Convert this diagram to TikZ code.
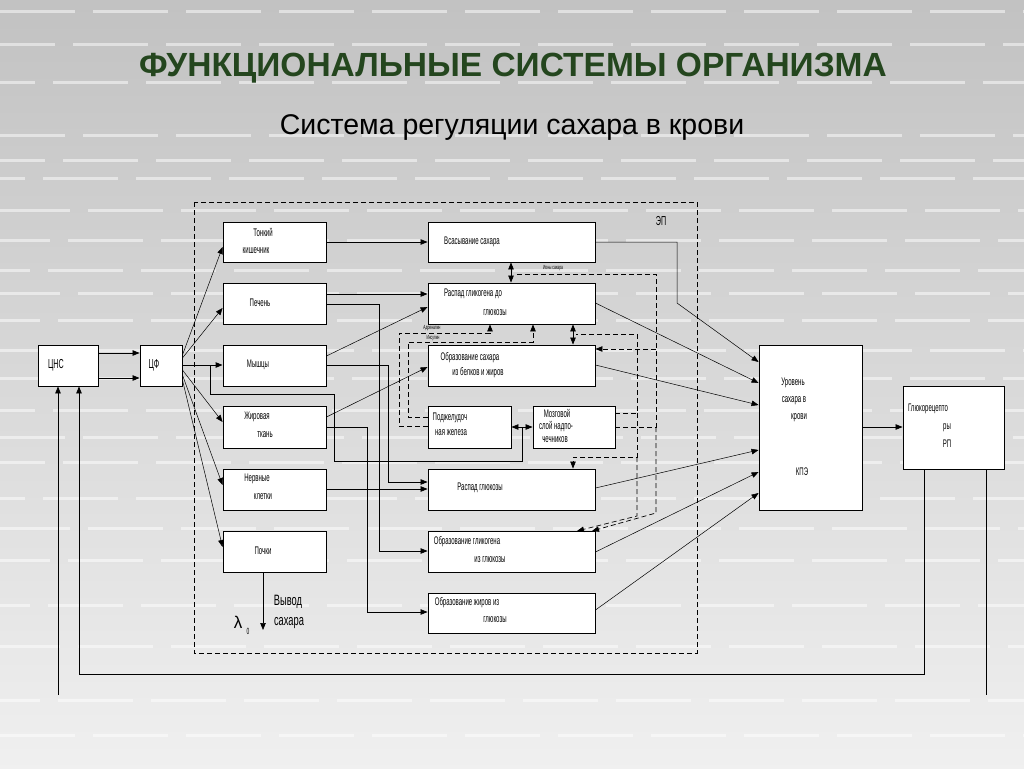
\documentclass[tikz,border=0pt]{standalone}
\usepackage{fontspec}
\setmainfont{Liberation Sans}
\newfontfamily\nar[FakeStretch=0.55]{Liberation Sans}
\newfontfamily\narb[FakeStretch=0.62]{Liberation Sans}
\usetikzlibrary{arrows.meta,calc}
\definecolor{ttl}{RGB}{36,70,30}
\newcommand\mybox[5]{\node[box, minimum width={(#4-#2)*1pt}, minimum height={(#5-#3)*1pt}] (#1) at ({(#2+#4)/2},{(#3+#5)/2}) {};}
\begin{document}
\begin{tikzpicture}[x=1pt,y=-1pt,
  box/.style={draw=black, fill=white, line width=0.9pt, inner sep=0pt},
  lbl/.style={font=\nar\fontsize{11}{12}\selectfont, inner sep=0pt},
  big/.style={font=\nar\fontsize{13}{14}\selectfont, inner sep=0pt},
  tiny/.style={font=\nar\fontsize{6}{7}\selectfont, inner sep=0pt},
  con/.style={line width=0.7pt, draw=black},
  thn/.style={line width=0.5pt, draw=black},
  arr/.style={-{Triangle[length=7pt,width=5.5pt]}},
  darr/.style={{Triangle[length=7pt,width=5.5pt]}-{Triangle[length=7pt,width=5.5pt]}},
  dsh/.style={dash pattern=on 5pt off 3pt, line width=0.7pt, draw=black},
  stripe/.style={white, opacity=0.5, line width=3pt}]
\useasboundingbox (0,0) rectangle (1024,768);
\shade[top color=gray!48, bottom color=gray!12] (0,0) rectangle (1024,768);
\foreach \yy/\ph in {12/0,45/20,82/40,135/10,160/30,178/50,210/5,240/25,270/45,293/15,320/35,350/0,378/20,410/40,437/10,462/30,498/50,528/5,560/25,605/45,646/15,700/35,735/0}
  \draw[stripe, dash pattern=on 75pt off 18pt, dash phase=\ph pt] (0,\yy) -- (1024,\yy);

% titles
\node[font=\bfseries\fontsize{33.5}{36}\selectfont, text=ttl, inner sep=0pt] (tit) at (513,68) {ФУНКЦИОНАЛЬНЫЕ СИСТЕМЫ ОРГАНИЗМА};
\node[font=\fontsize{28.5}{31}\selectfont, inner sep=0pt] (sub) at (512,128) {Система регуляции сахара в крови};

% EP dashed frame
\draw[dsh] (194,202) rectangle (697,653);
\node[big] (ep) at (661,221) {ЭП};

% boxes
\mybox{cns}{38}{345}{98}{386}
\mybox{cf}{140}{345}{182}{386}
\mybox{tk}{223}{222}{326}{262}
\mybox{pech}{223}{283}{326}{324}
\mybox{mysh}{223}{345}{326}{386}
\mybox{zhir}{223}{406}{326}{448}
\mybox{nerv}{223}{469}{326}{510}
\mybox{poch}{223}{531}{326}{572}
\mybox{vsas}{428}{222}{595}{262}
\mybox{rglik}{428}{283}{595}{324}
\mybox{obsah}{428}{345}{595}{386}
\mybox{podzh}{428}{406}{511}{448}
\mybox{mozg}{533}{406}{615}{448}
\mybox{rglu}{428}{469}{595}{510}
\mybox{obglik}{428}{531}{595}{572}
\mybox{obzhir}{428}{593}{595}{633}
\mybox{kpe}{759}{345}{862}{510}
\mybox{gluk}{903}{386}{1004}{469}

% box texts
\node[big] (tcns) at (56,365) {ЦНС};
\node[big] (tcf) at (154,365) {ЦФ};
\node[lbl] (ttk1) at (263,232) {Тонкий};
\node[lbl] (ttk2) at (256,251) {кишечник};
\node[lbl] (tpech) at (260,303) {Печень};
\node[lbl] (tmysh) at (258,365) {Мышцы};
\node[lbl] (tzh1) at (257,417) {Жировая};
\node[lbl] (tzh2) at (265,435) {ткань};
\node[lbl] (tnv1) at (257,479) {Нервные};
\node[lbl] (tnv2) at (263,497) {клетки};
\node[lbl] (tpoch) at (263,551) {Почки};
\node[lbl] (tvs) at (472,242) {Всасывание сахара};
\node[lbl] (trg1) at (473,294) {Распад гликогена до};
\node[lbl] (trg2) at (495,313) {глюкозы};
\node[lbl] (tos1) at (470,358) {Образование сахара};
\node[lbl] (tos2) at (478,373) {из белков и жиров};
\node[lbl] (tpz1) at (450,418) {Поджелудоч};
\node[lbl] (tpz2) at (451,433) {ная железа};
\node[lbl] (tmz1) at (557,413) {Мозговой};
\node[lbl] (tmz2) at (556,427) {слой надпо-};
\node[lbl] (tmz3) at (555,440) {чечников};
\node[lbl] (trgl) at (480,488) {Распад глюкозы};
\node[lbl] (tog1) at (467,542) {Образование гликогена};
\node[lbl] (tog2) at (490,560) {из глюкозы};
\node[lbl] (toz1) at (467,603) {Образование жиров из};
\node[lbl] (toz2) at (495,620) {глюкозы};
\node[lbl] (tk1) at (793,383) {Уровень};
\node[lbl] (tk2) at (794,401) {сахара в};
\node[lbl] (tk3) at (799,418) {крови};
\node[lbl] (tk4) at (802,472) {КПЭ};
\node[lbl] (tg1) at (928,409) {Глюкорецепто};
\node[lbl] (tg2) at (947,428) {ры};
\node[lbl] (tg3) at (947,444) {РП};
\node[font=\narb\fontsize{15}{16}\selectfont, inner sep=0pt] (tvy1) at (288,602) {Вывод};
\node[font=\narb\fontsize{15}{16}\selectfont, inner sep=0pt] (tvy2) at (289,623) {сахара};
\node[font=\fontsize{17}{18}\selectfont, inner sep=0pt] (lam) at (238,622) {λ};
\node[font=\nar\fontsize{9}{10}\selectfont, inner sep=0pt] (lam0) at (248,631) {0};
\node[tiny] (lb1) at (553,268) {Ионы сахара};
\node[tiny] (lb2) at (432,328) {Адреналин};
\node[tiny] (lb3) at (433,338) {Инсулин};

% CNS -> CF
\draw[con,arr] (cns.east |- 0,353) -- (cf.west |- 0,353);
\draw[con,arr] (cns.east |- 0,378) -- (cf.west |- 0,378);
% CF fan-out
\draw[thn,arr] (cf.east |- 0,355) -- (tk.west |- 0,247);
\draw[thn,arr] (cf.east |- 0,358) -- (pech.west |- 0,308);
\draw[con,line width=1pt,arr] (cf.east |- 0,365) -- (mysh.west |- 0,365);
\draw[thn,arr] (cf.east |- 0,370) -- (zhir.west |- 0,422);
\draw[thn,arr] (cf.east |- 0,375) -- (nerv.west |- 0,485);
\draw[thn,arr] (cf.east |- 0,380) -- (poch.west |- 0,547);
% CF -> glands
\coordinate (gj) at (522,427);
\draw[con] (210,365) -- (210,394) -- (334,394) -- (334,461) -- (522,461) -- (gj);
\draw[con,arr] (gj) -- (podzh.east |- gj);
\draw[con,arr] (gj) -- (mozg.west |- gj);

% organs -> processes
\draw[con,arr] (tk.east |- 0,242) -- (vsas.west |- 0,242);
\draw[con,arr] (pech.east |- 0,294) -- (rglik.west |- 0,294);
\draw[con,arr] (pech.east |- 0,304) -- (379,304) -- (379,551) -- (obglik.west |- 0,551);
\draw[thn,arr] (mysh.east |- 0,356) -- (rglik.west |- 0,307);
\draw[con,arr] (mysh.east |- 0,365) -- (388,365) -- (388,482) -- (rglu.west |- 0,482);
\draw[thn,arr] (zhir.east |- 0,417) -- (obsah.west |- 0,367);
\draw[con,arr] (zhir.east |- 0,427) -- (367,427) -- (367,612) -- (obzhir.west |- 0,612);
\draw[con,arr] (nerv.east |- 0,489) -- (rglu.west |- 0,489);
\coordinate (vyv) at (263,630);
\draw[con,arr] (vyv |- poch.south) -- (vyv);

% processes -> KPE
\draw[thn,arr] (vsas.east |- 0,242) -- (677,242) -- (677,303) -- (kpe.west |- 0,362);
\draw[thn,arr] (rglik.east |- 0,303) -- (kpe.west |- 0,383);
\draw[thn,arr] (obsah.east |- 0,365) -- (kpe.west |- 0,405);
\draw[thn,arr] (rglu.east |- 0,488) -- (kpe.west |- 0,450);
\draw[thn,arr] (obglik.east |- 0,552) -- (kpe.west |- 0,472);
\draw[thn,arr] (obzhir.east |- 0,610) -- (kpe.west |- 0,493);
\draw[con,arr] (kpe.east |- 0,427) -- (gluk.west |- 0,427);

% feedback
\draw[con,arr] (gluk.south -| 924,0) -- (924,674) -- (79,674) -- (cns.south -| 79,0);
\coordinate (fr) at (986,695);
\coordinate (fl) at (58,695);
\draw[con] (gluk.south -| fr) -- (fr);
\draw[con,arr] (fl) -- (cns.south -| fl);

% hormonal (dashed)
\draw[con,darr] (vsas.south -| 511,0) -- (rglik.north -| 511,0);
\draw[con,darr] (rglik.south -| 573,0) -- (obsah.north -| 573,0);
\draw[dsh] (mozg.east |- 0,427) -- (656,427) -- (656,274) -- (514,274);
\draw[dsh] (mozg.east |- 0,413) -- (637,413) -- (637,334) -- (576,334);
\draw[dsh,arr] (656,349) -- (obsah.east |- 0,349);
\draw[dsh,arr] (637,413) -- (637,457) -- (573,457) -- (rglu.north -| 573,0);
\draw[dsh,arr] (637,457) -- (637,516) -- (577,531);
\draw[dsh,arr] (656,427) -- (656,513) -- (592,531);
\draw[dsh,arr] (podzh.west |- 0,417) -- (408,417) -- (408,342) -- (533,342) -- (rglik.south -| 533,0);
\draw[dsh,arr] (podzh.west |- 0,426) -- (399,426) -- (399,333) -- (490,333) -- (rglik.south -| 490,0);
\end{tikzpicture}
\end{document}
